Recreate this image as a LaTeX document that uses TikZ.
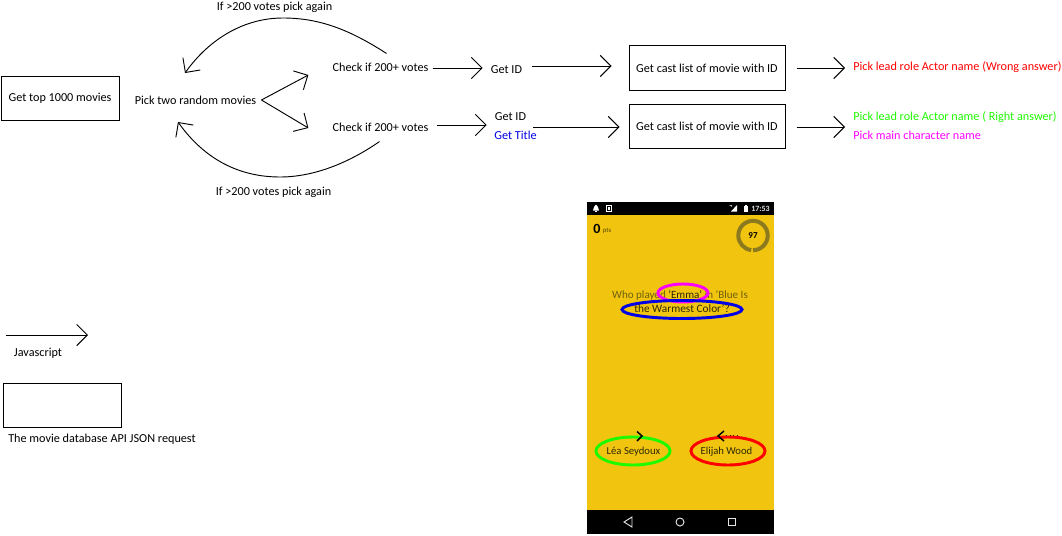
\documentclass[tikz,border=0pt]{standalone}
\usepackage{fontspec}
\setmainfont{Carlito}
\usetikzlibrary{arrows.meta,calc}
\definecolor{phoneY}{HTML}{F1C40F}
\definecolor{qtext}{HTML}{6E5F10}
\definecolor{qdark}{HTML}{2E2806}
\definecolor{ringc}{HTML}{8C7A1E}
\definecolor{grn}{HTML}{1EFA00}
\definecolor{mag}{HTML}{FF00FF}
\definecolor{blu}{HTML}{0000E6}
\definecolor{rd}{HTML}{FF0000}
\tikzset{
  lbl/.style={inner sep=0pt,font=\fontsize{9.15pt}{11pt}\selectfont,text=black},
  boxn/.style={draw=black,line width=.75pt,minimum width=88.5pt,minimum height=33pt,inner sep=0pt,font=\fontsize{9.15pt}{11pt}\selectfont},
  boxw/.style={boxn,minimum width=117pt},
  arr/.style={draw=black,line width=.7pt,-{Straight Barb[length=8pt,width=16pt,line width=.7pt]}},
  ringe/.style={line width=2.2pt},
  ph/.style={inner sep=0pt,font=\fontsize{8.3pt}{9pt}\selectfont,text=qtext},
  phk/.style={inner sep=0pt,font=\fontsize{8pt}{9pt}\selectfont,text=qdark},
}
\begin{document}
\begin{tikzpicture}[x=.75pt,y=-.75pt]
\useasboundingbox (0,0) rectangle (1062,535);
% flow
\node[boxn] (top) at (60,98) {Get top 1000 movies};
\node[lbl] (pick) at (195.5,100) {Pick two random movies};
\node[lbl] (c1) at (380.5,67) {Check if 200+ votes};
\node[lbl] (c2) at (380.5,127) {Check if 200+ votes};
\node[lbl] (id1) at (506.5,70) {Get ID};
\node[lbl] (id2) at (510.5,117) {Get ID};
\node[lbl,text=blu] (title) at (515.5,135) {Get Title};
\node[boxw] (b1) at (707,68) {Get cast list of movie with ID};
\node[boxw] (b2) at (707,126) {Get cast list of movie with ID};
\node[lbl,text=rd,anchor=west] (wrong) at (853,67) {Pick lead role Actor name (Wrong answer)};
\node[lbl,text=grn,anchor=west] (right) at (853,117) {Pick lead role Actor name ( Right answer)};
\node[lbl,text=mag,anchor=west] (mainc) at (853,135) {Pick main character name};
\node[lbl] (again1) at (274.5,7) {If >200 votes pick again};
\node[lbl] (again2) at (273.5,192) {If >200 votes pick again};
% connectors
\draw[arr] ($(pick.east)+(5,0)$) -- ($(c1.west)+(-24,8)$);
\draw[arr] ($(pick.east)+(5,0)$) -- ($(c2.west)+(-24,1)$);
\draw[arr] ($(c1.east)+(4,1)$) -- ($(id1.west)+(-8,-2)$);
\draw[arr] ($(c2.east)+(8,-2)$) -- ($(id2.west)+(-8,8)$);
\draw[arr] ($(id1.east)+(10,-4)$) -- ($(b1.west)+(-17,-2)$);
\draw[arr] ($(title.east)+(-4,-8)$) -- ($(b2.west)+(-9,1)$);
\draw[arr] ($(b1.east)+(11,0)$) -- ($(wrong.west)+(-8,1)$);
\draw[arr] ($(b2.east)+(11,1)$) -- ($(right.west)+(-8,10)$);
\draw[arr] ($(c1.north)+(6,-9)$) .. controls (350,30) and (320,18) .. (283,18) .. controls (245,18) and (210,38) .. (185,73);
\draw[arr] ($(c2.south)+(-1,10)$) .. controls (350,162) and (315,177) .. (280,177) .. controls (240,177) and (205,160) .. (178,122);
% legend
\coordinate (ja) at (6,335);
\coordinate (jb) at (88,335);
\draw[arr] (ja) -- (jb);
\node[lbl] (jslbl) at (38,353) {Javascript};
\node[boxn] (lgbox) at (62.5,405) {};
\node[lbl] (lgtxt) at (102,439) {The movie database API JSON request};
% phone
\fill[phoneY] (587,202) rectangle (774,534);
\fill[black] (587,202) rectangle (774,214.5);
\fill[black] (587,510) rectangle (774,533.5);
\node[inner sep=0pt,text=white!90!black,font=\fontsize{6pt}{7pt}\selectfont\bfseries] (clock) at (760.5,208.5) {17:53};
\fill[white] (596,204.5) .. controls (594,205) and (594,208) .. (593,210.5) -- (599,210.5) .. controls (598,208) and (598,205) .. (596,204.5) -- cycle;
\fill[white] (595,211) rectangle (597,212);
\draw[white,line width=.6pt] (606,205) rectangle (611.5,211.5);
\fill[white] (607.5,207) rectangle (610,209.5);
\fill[white!70!black] (729,205) -- (732,205) -- (732,207) -- cycle;
\fill[white] (737,205) -- (737,211.5) -- (731,211.5) -- cycle;
\fill[white] (743.5,206) rectangle (747.5,212);
\fill[white] (744.5,205) rectangle (746.5,206);
\node[inner sep=0pt,font=\fontsize{10.5pt}{11pt}\selectfont\bfseries] (zero) at (597,228.5) {0};
\node[inner sep=0pt,font=\fontsize{5pt}{5pt}\selectfont,text=black!65!phoneY] (pts) at (607,230.5) {pts};
\draw[ringc,line width=3pt] (753,235.5) ++(90:14.7) arc[start angle=90,end angle=-263,radius=14.7];
\node[inner sep=0pt,font=\fontsize{6.8pt}{8pt}\selectfont\bfseries] (cnt) at (753,235.5) {97};
\node[ph] (q1) at (680,295) {Who played \textcolor{qdark}{'Emma'} in 'Blue Is};
\node[ph,text=qdark,font=\fontsize{8.5pt}{9pt}\selectfont] (q2) at (682,309) {the Warmest Color'?};
\node[phk] (a1) at (633.5,452) {Léa Seydoux};
\node[phk] (a2) at (726.5,452) {Elijah Wood};
\draw[mag,ringe] (683,293) ellipse [x radius=25,y radius=9];
\draw[blu,ringe] (682,309.5) ellipse [x radius=60,y radius=9];
\draw[grn,ringe] (633,451) ellipse [x radius=37,y radius=14];
\draw[rd,ringe] (728,451) ellipse [x radius=37,y radius=14];
\draw[black,line width=1.1pt] (637,431.5) -- (642,436) -- (637,441);
\draw[black,line width=1.1pt] (724,431) -- (718,436) -- (724,441);
\draw[qdark,line width=.7pt,dotted] (726,435) -- (737,435);
\draw[white!90!black,line width=.7pt,line join=miter] (632,517) -- (624,522) -- (632,527) -- cycle;
\draw[white!90!black,line width=.7pt] (680,522) circle (4);
\draw[white!90!black,line width=.7pt] (728.5,518.5) rectangle (735.5,525.5);
\end{tikzpicture}
\end{document}
